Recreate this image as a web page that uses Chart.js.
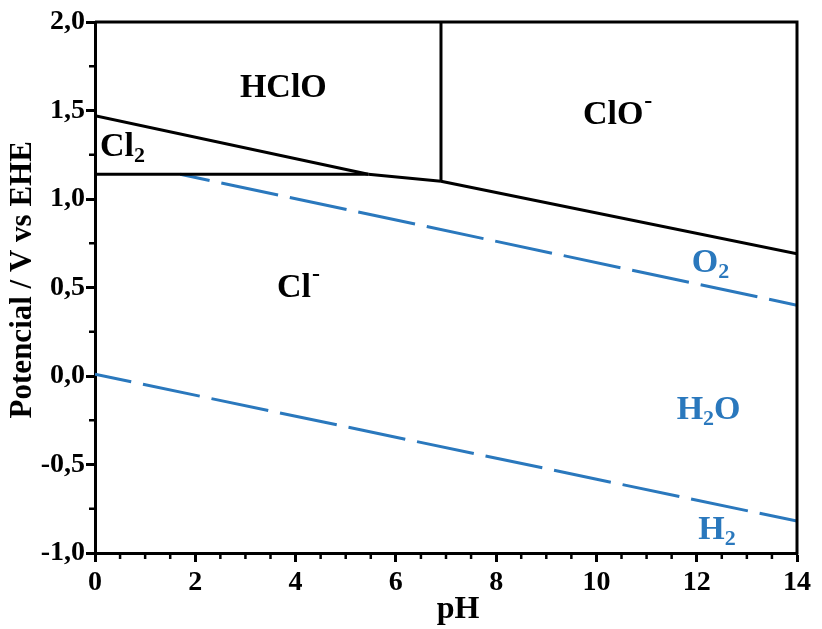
<!DOCTYPE html>
<html lang="es">
<head>
<meta charset="UTF-8">
<title>Diagrama de Pourbaix del cloro</title>
<script src="https://cdn.jsdelivr.net/npm/chart.js"></script>
<style>
  html, body { margin: 0; padding: 0; background: #fff; }
  #wrap { width: 822px; height: 629px; }
</style>
</head>
<body>
<div id="wrap"><canvas id="chart"></canvas></div>
<script>
// boundary lines, points are [pH, E / V]
const lineCl2HClO = [[0, 1.47], [5.45, 1.14]];
const lineHClOCl = [[5.45, 1.14], [6.9, 1.10]];
const lineClOCl = [[6.9, 1.10], [14, 0.69]];
const lineCl2Cl = [[0, 1.14], [5.45, 1.14]];
const lineHClOClO = [[6.9, 1.10], [6.9, 2.0]];
const lineO2 = [[1.7, 1.14], [14, 0.40]];
const lineH2 = [[0, 0.01], [14, -0.82]];

const phTicks = [0, 2, 4, 6, 8, 10, 12, 14];
const eTicks = [-1.0, -0.5, 0.0, 0.5, 1.0, 1.5, 2.0];

// species labels: text parts, anchor [pH, E]
const speciesLabels = [
  { parts: [['HClO', '']], at: [2.89, 1.627], color: '#000' },
  { parts: [['ClO', ''], ['-', 'sup']], at: [9.73, 1.475], color: '#000' },
  { parts: [['Cl', ''], ['2', 'sub']], at: [0.1, 1.29], color: '#000' },
  { parts: [['Cl', ''], ['-', 'sup']], at: [3.63, 0.497], color: '#000' },
  { parts: [['O', ''], ['2', 'sub']], at: [11.9, 0.638], color: '#2a78bd' },
  { parts: [['H', ''], ['2', 'sub'], ['O', '']], at: [11.6, -0.192], color: '#2a78bd' },
  { parts: [['H', ''], ['2', 'sub']], at: [12.03, -0.87], color: '#2a78bd' }
];

const FONT = '"Liberation Serif", "Times New Roman", serif';
const BLUE = '#2a78bd';

function pts(arr) {
  return arr.map(p => ({ x: p[0], y: p[1] }));
}

function blackLine(arr) {
  return { data: pts(arr), showLine: true, borderColor: '#000', borderWidth: 3, pointRadius: 0, fill: false };
}

function fmtE(v) {
  return v.toFixed(1).replace('.', ',');
}

const framePlugin = {
  id: 'frame',
  afterDraw(chart) {
    const ctx = chart.ctx;
    const a = chart.chartArea;
    const xs = chart.scales.x, ys = chart.scales.y;
    ctx.save();
    ctx.strokeStyle = '#000';
    // top and right border
    ctx.lineWidth = 3;
    ctx.beginPath();
    ctx.moveTo(a.left, a.top);
    ctx.lineTo(a.right, a.top);
    ctx.lineTo(a.right, a.bottom + 1.5);
    ctx.stroke();
    // minor ticks
    ctx.lineWidth = 2.5;
    ctx.beginPath();
    for (let v = 0.5; v < 14; v += 0.5) {
      if (v % 2 === 0) continue;
      const px = xs.getPixelForValue(v);
      ctx.moveTo(px, a.bottom);
      ctx.lineTo(px, a.bottom + 6);
    }
    for (let v = -0.75; v < 2; v += 0.5) {
      const py = ys.getPixelForValue(v);
      ctx.moveTo(a.left, py);
      ctx.lineTo(a.left - 6, py);
    }
    ctx.stroke();
    // species labels
    ctx.textBaseline = 'middle';
    ctx.textAlign = 'left';
    speciesLabels.forEach(lb => {
      let x = xs.getPixelForValue(lb.at[0]);
      const y = ys.getPixelForValue(lb.at[1]);
      ctx.fillStyle = lb.color;
      lb.parts.forEach(([t, kind]) => {
        if (kind === 'sub') {
          ctx.font = 'bold 22px ' + FONT;
          ctx.fillText(t, x, y + 9);
        } else if (kind === 'sup') {
          ctx.font = 'bold 24px ' + FONT;
          ctx.fillText(t, x + 1, y - 13);
        } else {
          ctx.font = 'bold 34px ' + FONT;
          ctx.fillText(t, x, y);
        }
        x += ctx.measureText(t).width;
      });
    });
    ctx.restore();
  }
};

new Chart(document.getElementById('chart'), {
  type: 'scatter',
  data: {
    datasets: [
      blackLine(lineCl2HClO),
      blackLine(lineHClOCl),
      blackLine(lineClOCl),
      blackLine(lineCl2Cl),
      blackLine(lineHClOClO),
      { data: pts(lineO2), showLine: true, borderColor: BLUE, borderWidth: 3, borderDash: [58, 12], borderDashOffset: 28, pointRadius: 0 },
      { data: pts(lineH2), showLine: true, borderColor: BLUE, borderWidth: 3, borderDash: [58, 12], borderDashOffset: 21, pointRadius: 0 }
    ]
  },
  options: {
    responsive: true,
    maintainAspectRatio: false,
    animation: false,
    layout: { padding: { top: 22, right: 25, left: 0, bottom: 0 } },
    plugins: { legend: { display: false }, tooltip: { enabled: false } },
    scales: {
      x: {
        type: 'linear',
        min: 0,
        max: 14,
        afterBuildTicks: s => { s.ticks = phTicks.map(v => ({ value: v })); },
        afterFit: s => { s.height = 76; },
        ticks: { font: { family: FONT, size: 28, weight: 'bold' }, color: '#000', padding: 4, maxRotation: 0, autoSkip: false },
        grid: { drawOnChartArea: false, drawTicks: true, tickLength: 9, tickWidth: 3, tickColor: '#000' },
        border: { color: '#000', width: 3 },
        title: { display: true, text: '   pH', color: '#000', font: { family: FONT, size: 32, weight: 'bold' }, padding: { top: -3, bottom: 0 } }
      },
      y: {
        type: 'linear',
        min: -1,
        max: 2,
        afterBuildTicks: s => { s.ticks = eTicks.map(v => ({ value: v })); },
        afterFit: s => { s.width = 95; },
        ticks: { font: { family: FONT, size: 28, weight: 'bold' }, color: '#000', padding: 1, callback: v => fmtE(v), autoSkip: false },
        grid: { drawOnChartArea: false, drawTicks: true, tickLength: 9, tickWidth: 3, tickColor: '#000' },
        border: { color: '#000', width: 3 },
        title: { display: true, text: '  Potencial / V vs EHE', color: '#000', font: { family: FONT, size: 31, weight: 'bold' }, padding: { top: 4, bottom: 0 } }
      }
    }
  },
  plugins: [framePlugin]
});
</script>
</body>
</html>
